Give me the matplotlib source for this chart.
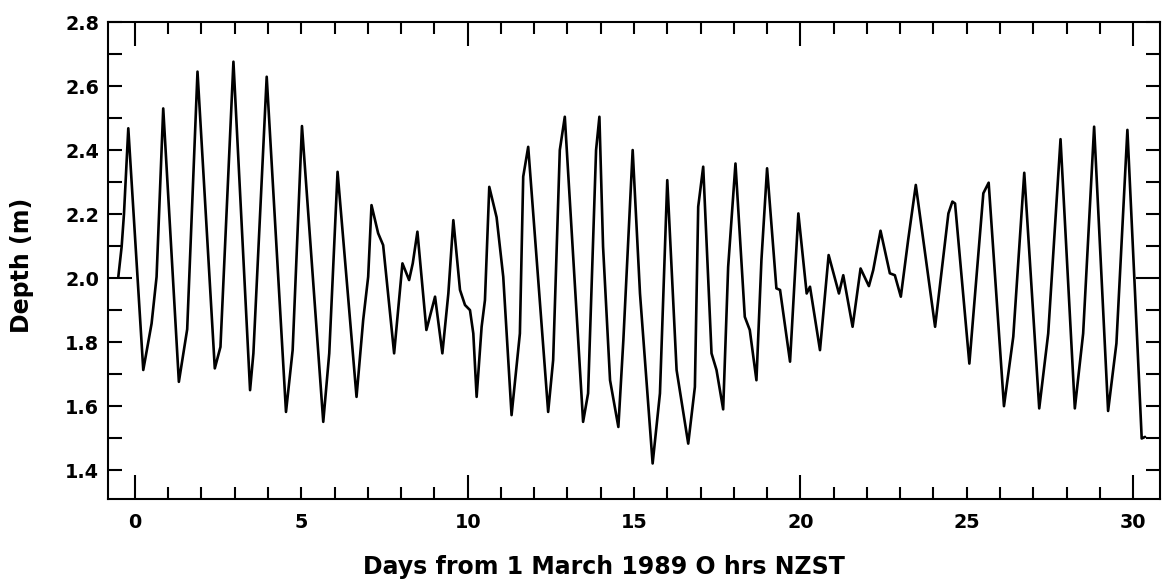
import matplotlib
matplotlib.use("Agg")
import matplotlib.pyplot as plt
from matplotlib.ticker import FixedLocator, MultipleLocator, FuncFormatter

matplotlib.rcParams["font.family"] = "DejaVu Sans"
matplotlib.rcParams["font.weight"] = "bold"
matplotlib.rcParams["axes.linewidth"] = 1.5

# tide gauge record, days from 1 March 1989 (NZST)
days = [
    -0.50, -0.40, -0.33, -0.20, 0.25, 0.50, 0.65, 0.85, 1.32, 1.57,
    1.88, 2.40, 2.57, 2.96, 3.46, 3.56, 3.96, 4.54, 4.74, 5.02,
    5.66, 5.84, 6.09, 6.66, 6.86, 7.01, 7.11, 7.31, 7.46, 7.79,
    8.04, 8.24, 8.35, 8.49, 8.76, 9.02, 9.24, 9.42, 9.57, 9.77,
    9.92, 10.07, 10.17, 10.27, 10.42, 10.52, 10.65, 10.87, 11.07, 11.32,
    11.57, 11.67, 11.82, 12.42, 12.57, 12.77, 12.92, 13.47, 13.62, 13.86,
    13.96, 14.07, 14.28, 14.53, 14.68, 14.96, 15.18, 15.56, 15.78, 16.00,
    16.28, 16.63, 16.83, 16.93, 17.08, 17.33, 17.48, 17.68, 17.83, 18.05,
    18.33, 18.48, 18.68, 18.83, 19.00, 19.28, 19.39, 19.69, 19.94, 20.19,
    20.29, 20.59, 20.85, 21.16, 21.29, 21.57, 21.81, 22.06, 22.19, 22.41,
    22.69, 22.84, 23.02, 23.24, 23.47, 24.05, 24.45, 24.57, 24.65, 25.08,
    25.50, 25.66, 26.12, 26.40, 26.73, 27.18, 27.45, 27.82, 28.25, 28.50,
    28.83, 29.25, 29.50, 29.83, 30.06, 30.26, 30.36,
]
depth = [
    2.004, 2.098, 2.200, 2.468, 1.713, 1.858, 2.004, 2.530, 1.676, 1.840,
    2.645, 1.718, 1.785, 2.676, 1.650, 1.765, 2.629, 1.582, 1.775, 2.475,
    1.551, 1.765, 2.332, 1.629, 1.869, 2.004, 2.228, 2.140, 2.103, 1.765,
    2.046, 1.994, 2.046, 2.145, 1.838, 1.942, 1.765, 1.952, 2.181, 1.963,
    1.916, 1.900, 1.827, 1.629, 1.848, 1.931, 2.285, 2.190, 2.004, 1.572,
    1.827, 2.317, 2.410, 1.582, 1.744, 2.400, 2.504, 1.551, 1.640, 2.400,
    2.504, 2.098, 1.681, 1.535, 1.806, 2.400, 1.952, 1.421, 1.640, 2.306,
    1.713, 1.483, 1.660, 2.223, 2.348, 1.765, 1.713, 1.590, 2.035, 2.358,
    1.879, 1.838, 1.681, 2.056, 2.343, 1.968, 1.963, 1.739, 2.202, 1.952,
    1.973, 1.775, 2.072, 1.952, 2.009, 1.848, 2.030, 1.975, 2.025, 2.148,
    2.015, 2.009, 1.942, 2.119, 2.291, 1.848, 2.202, 2.239, 2.233, 1.733,
    2.265, 2.298, 1.600, 1.817, 2.329, 1.593, 1.827, 2.434, 1.593, 1.827,
    2.473, 1.585, 1.796, 2.463, 1.952, 1.499, 1.504,
]

x_long_ticks = [0, 10, 20, 30]
y_long_ticks = [2.0]


def main():
    fig = plt.figure(figsize=(11.65, 5.84), dpi=100)
    ax = fig.add_axes([108 / 1165, 1 - 499 / 584, 1052 / 1165, 477 / 584])

    ax.plot(days, depth, color="black", linewidth=1.9,
            solid_joinstyle="round", solid_capstyle="round")

    ax.set_xlim(-0.81, 30.81)
    ax.set_ylim(1.31, 2.8)

    # long ticks every 10 days, short ones every day, labels every 5
    ax.xaxis.set_major_locator(FixedLocator(x_long_ticks))
    ax.xaxis.set_minor_locator(MultipleLocator(1))
    ax.xaxis.set_major_formatter(FuncFormatter(lambda v, p: f"{v:.0f}"))
    ax.xaxis.set_minor_formatter(
        FuncFormatter(lambda v, p: f"{v:.0f}" if round(v) % 5 == 0 else "")
    )

    ax.yaxis.set_major_locator(FixedLocator(y_long_ticks))
    ax.yaxis.set_minor_locator(MultipleLocator(0.1))
    ax.yaxis.set_major_formatter(FuncFormatter(lambda v, p: f"{v:.1f}"))
    ax.yaxis.set_minor_formatter(
        FuncFormatter(lambda v, p: f"{v:.1f}" if round(v * 10) % 2 == 0 else "")
    )

    ax.tick_params(axis="both", which="both", direction="in", top=True,
                   right=True, width=1.5, colors="black", labelsize=13.8)
    ax.tick_params(axis="x", which="major", length=17, pad=10)
    ax.tick_params(axis="x", which="minor", length=8.5, pad=10)
    ax.tick_params(axis="y", which="major", length=17, pad=6.5)
    ax.tick_params(axis="y", which="minor", length=10, pad=6.5)

    ax.set_xlabel("Days from 1 March 1989 O hrs NZST", fontsize=17,
                  fontweight="bold", va="center")
    ax.xaxis.set_label_coords(0.4715, -0.1426)
    ax.set_ylabel("Depth (m)", fontsize=17, fontweight="bold", va="center")
    ax.yaxis.set_label_coords(-0.0817, 0.49)

    fig.savefig("out.png", dpi=100)


if __name__ == "__main__":
    main()
